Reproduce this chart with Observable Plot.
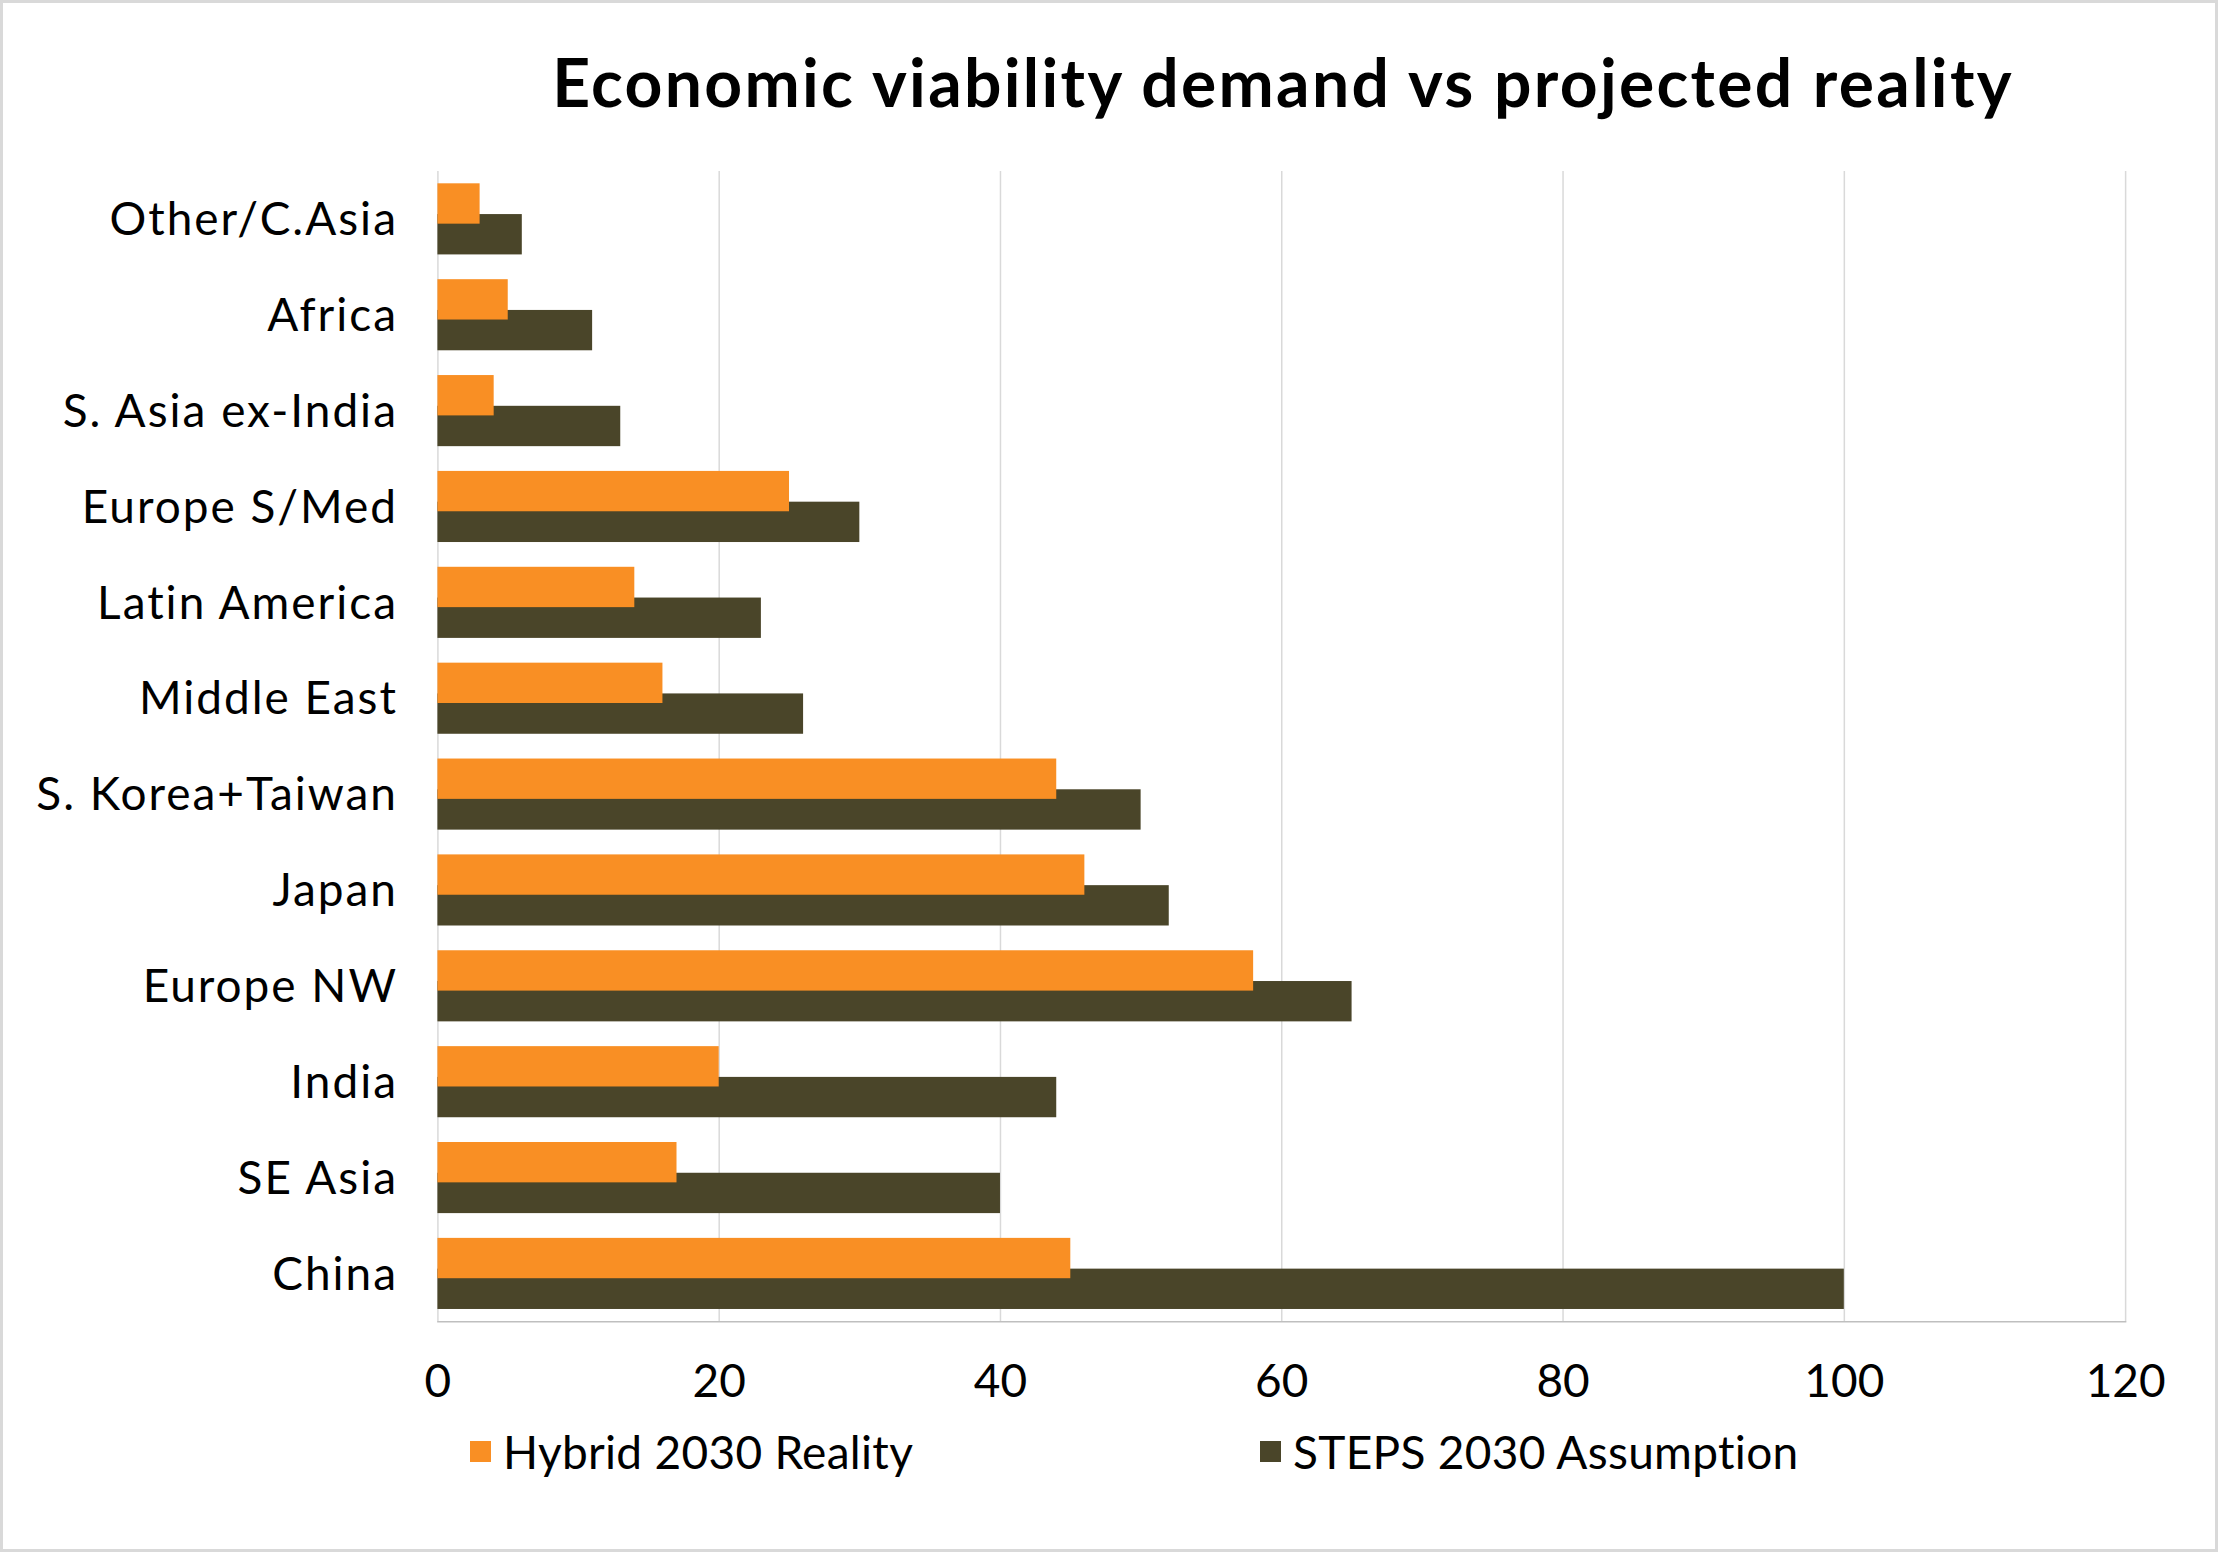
<!DOCTYPE html>
<html>
<head>
<meta charset="utf-8">
<script src="https://cdn.jsdelivr.net/npm/d3@7"></script>
<script src="https://cdn.jsdelivr.net/npm/@observablehq/plot@0.6"></script>
<style>
  html, body { margin: 0; padding: 0; background: #fff; }
  #wrap { position: relative; width: 2218px; height: 1552px; box-sizing: border-box; border: 3px solid #d9d9d9; background: #fff; font-family: Lato, "DejaVu Sans", sans-serif; overflow: hidden; }
  #title { position: absolute; left: 339px; width: 1882px; top: 39px; text-align: center; font-weight: 700; font-size: 66px; letter-spacing: 2.3px; line-height: 80px; color: #000; }
  #chart { position: absolute; left: -3px; top: 117px; }
  #legend { position: absolute; top: 1418px; left: 0; width: 2218px; height: 60px; font-size: 46px; letter-spacing: 0.3px; color: #000; }
  .item { position: absolute; top: 0; height: 60px; display: flex; align-items: center; }
  .sw { width: 21px; height: 21px; margin-right: 12px; }
</style>
</head>
<body>
<div id="wrap">
  <div id="title">Economic viability demand vs projected reality</div>
  <div id="chart"></div>
  <div id="legend"></div>
</div>
<script>
const regions = ["Other/C.Asia", "Africa", "S. Asia ex-India", "Europe S/Med", "Latin America", "Middle East", "S. Korea+Taiwan", "Japan", "Europe NW", "India", "SE Asia", "China"];
const hybrid2030 = [3, 5, 4, 25, 14, 16, 44, 46, 58, 20, 17, 45];
const steps2030 = [6, 11, 13, 30, 23, 26, 50, 52, 65, 44, 40, 100];
const xTicks = [0, 20, 40, 60, 80, 100, 120];
const seriesNames = ["Hybrid 2030 Reality", "STEPS 2030 Assumption"];
const seriesColors = ["#f98f24", "#4a4529"];

const hybridData = regions.map((r, i) => ({region: r, value: hybrid2030[i]}));
const stepsData = regions.map((r, i) => ({region: r, value: steps2030[i]}));

const band = 96;
const barH = 40.4;
const inset = (band - barH) / 2;
const off = 15.4;

const chart = Plot.plot({
  width: 2218,
  height: 1306,
  marginTop: 51,
  marginBottom: 103,
  marginLeft: 438,
  marginRight: 90,
  style: {fontFamily: "Lato, 'DejaVu Sans', sans-serif", fontSize: "46px", color: "#000", background: "transparent"},
  x: {domain: [0, 120], ticks: xTicks},
  y: {domain: regions, padding: 0, round: false},
  marks: [
    Plot.gridX(xTicks, {stroke: "#d9d9d9", strokeOpacity: 1, strokeWidth: 1.5}),
    Plot.barX(stepsData, {x: "value", y: "region", fill: seriesColors[1], insetTop: inset, insetBottom: inset, dy: off}),
    Plot.barX(hybridData, {x: "value", y: "region", fill: seriesColors[0], insetTop: inset, insetBottom: inset, dy: -off}),
    Plot.frame({anchor: "bottom", stroke: "#bfbfbf", strokeWidth: 1.5}),
    Plot.axisX(xTicks, {tickSize: 0, tickPadding: 43, label: null, fontSize: 46, tickFormat: d => String(d)}),
    Plot.axisY({tickSize: 0, tickPadding: 40, label: null, fontSize: 46, dy: 1})
  ]
});
d3.select(chart).selectAll('g[aria-label="y-axis tick label"]').style("letter-spacing", "2px");
document.getElementById("chart").appendChild(chart);

const legend = document.getElementById("legend");
const lefts = [467, 1257];
seriesNames.forEach((name, i) => {
  const it = document.createElement("div");
  it.className = "item";
  it.style.left = lefts[i] + "px";
  const sw = document.createElement("div");
  sw.className = "sw";
  sw.style.background = seriesColors[i];
  const tx = document.createElement("span");
  tx.textContent = name;
  it.appendChild(sw);
  it.appendChild(tx);
  legend.appendChild(it);
});
</script>
</body>
</html>
